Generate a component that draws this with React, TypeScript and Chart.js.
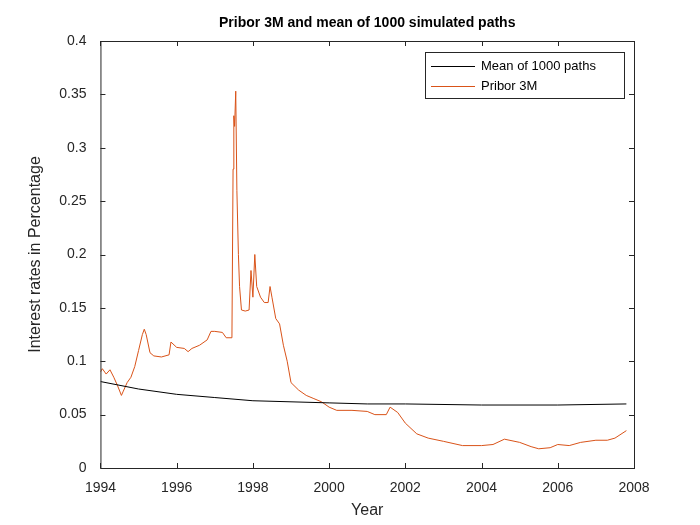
import { useEffect, useRef } from 'react';
import Chart from 'chart.js/auto';

const priborYears = [1994.0, 1994.05, 1994.15, 1994.25, 1994.35, 1994.45, 1994.55, 1994.6, 1994.7, 1994.8, 1994.9, 1995.0, 1995.1, 1995.15, 1995.2, 1995.3, 1995.4, 1995.6, 1995.8, 1995.85, 1996.0, 1996.2, 1996.3, 1996.4, 1996.6, 1996.8, 1996.9, 1997.0, 1997.2, 1997.3, 1997.45, 1997.48, 1997.5, 1997.52, 1997.55, 1997.58, 1997.62, 1997.65, 1997.7, 1997.8, 1997.9, 1997.95, 1998.0, 1998.05, 1998.1, 1998.2, 1998.3, 1998.4, 1998.45, 1998.5, 1998.6, 1998.7, 1998.8, 1998.9, 1999.0, 1999.2, 1999.4, 1999.6, 1999.8, 2000.0, 2000.2, 2000.6, 2001.0, 2001.2, 2001.5, 2001.6, 2001.8, 2002.0, 2002.3, 2002.6, 2003.0, 2003.5, 2004.0, 2004.3, 2004.6, 2005.0, 2005.3, 2005.5, 2005.8, 2006.0, 2006.3, 2006.6, 2007.0, 2007.3, 2007.5, 2007.8];
const priborValues = [0.09, 0.093, 0.088, 0.092, 0.085, 0.077, 0.068, 0.072, 0.08, 0.085, 0.095, 0.11, 0.125, 0.13, 0.125, 0.108, 0.105, 0.104, 0.106, 0.118, 0.113, 0.112, 0.109, 0.112, 0.115, 0.12, 0.128, 0.128, 0.127, 0.122, 0.122, 0.28, 0.33, 0.32, 0.353, 0.26, 0.2, 0.17, 0.148, 0.147, 0.148, 0.185, 0.16, 0.2, 0.17, 0.16, 0.155, 0.155, 0.17, 0.16, 0.14, 0.135, 0.115, 0.1, 0.08, 0.073, 0.068, 0.065, 0.062, 0.057, 0.054, 0.054, 0.053, 0.05, 0.05, 0.057, 0.052, 0.042, 0.032, 0.028, 0.025, 0.021, 0.021, 0.022, 0.027, 0.024, 0.02, 0.018, 0.019, 0.022, 0.021, 0.024, 0.026, 0.026, 0.028, 0.035];
const meanYears = [1994, 1995, 1996, 1997, 1998, 1999, 2000, 2001, 2002, 2004, 2006, 2007.8];
const meanValues = [0.081, 0.074, 0.069, 0.066, 0.063, 0.062, 0.061, 0.06, 0.06, 0.059, 0.059, 0.06];
const xTicks = [1994, 1996, 1998, 2000, 2002, 2004, 2006, 2008];
const title = 'Pribor 3M and mean of 1000 simulated paths';

const font = 'Liberation Sans, Arial, sans-serif';

const boxPlugin = {
  id: 'box',
  afterDraw(chart: any) {
    const { ctx, chartArea: a, scales } = chart;
    ctx.save();
    ctx.strokeStyle = '#262626';
    ctx.lineWidth = 1;
    ctx.strokeRect(a.left + 0.5, a.top + 0.5, a.right - a.left, a.bottom - a.top);
    // inward ticks
    ctx.beginPath();
    xTicks.forEach((t) => {
      const x = Math.round(scales.x.getPixelForValue(t)) + 0.5;
      ctx.moveTo(x, a.bottom); ctx.lineTo(x, a.bottom - 5);
      ctx.moveTo(x, a.top); ctx.lineTo(x, a.top + 5);
    });
    for (let v = 0; v <= 0.4001; v += 0.05) {
      const y = Math.round(scales.y.getPixelForValue(v)) + 0.5;
      ctx.moveTo(a.left, y); ctx.lineTo(a.left + 5, y);
      ctx.moveTo(a.right, y); ctx.lineTo(a.right - 5, y);
    }
    ctx.stroke();
    // title centred on the plot area
    ctx.fillStyle = '#000';
    ctx.font = `bold 14px ${font}`;
    ctx.textAlign = 'center';
    ctx.textBaseline = 'middle';
    ctx.fillText(title, (a.left + a.right) / 2, 23);
    // legend
    const lx = 425, ly = 52, lw = 199, lh = 46;
    ctx.textAlign = 'left';
    ctx.fillStyle = '#fff';
    ctx.fillRect(lx, ly, lw, lh);
    ctx.strokeRect(lx + 0.5, ly + 0.5, lw, lh);
    ctx.font = `13px ${font}`;
    const items = [['Mean of 1000 paths', '#000000', 66], ['Pribor 3M', '#d95319', 86]] as const;
    items.forEach(([label, color, y]) => {
      ctx.strokeStyle = color;
      ctx.beginPath(); ctx.moveTo(431, y + 0.5); ctx.lineTo(475, y + 0.5); ctx.stroke();
      ctx.fillStyle = '#000';
      ctx.fillText(label, 481, y);
    });
    ctx.restore();
  },
};

export default function App() {
  const canvasRef = useRef<HTMLCanvasElement>(null);
  const chartRef = useRef<Chart | null>(null);

  useEffect(() => {
    document.body.style.margin = '0';
    if (!canvasRef.current) return;
    if (chartRef.current) chartRef.current.destroy();
    chartRef.current = new Chart(canvasRef.current, {
      type: 'line',
      data: {
        datasets: [
          {
            label: 'Mean of 1000 paths',
            data: meanYears.map((x, i) => ({ x, y: meanValues[i] })),
            borderColor: '#000000',
            borderWidth: 1,
            pointRadius: 0,
          },
          {
            label: 'Pribor 3M',
            data: priborYears.map((x, i) => ({ x, y: priborValues[i] })),
            borderColor: '#d95319',
            borderWidth: 1,
            pointRadius: 0,
          },
        ],
      },
      options: {
        responsive: false,
        animation: false,
        layout: { padding: { top: 41, right: 66, left: 22, bottom: 1 } },
        plugins: {
          legend: { display: false },
          tooltip: { enabled: false },
          title: { display: false },
        },
        scales: {
          x: {
            type: 'linear',
            min: 1994,
            max: 2008,
            afterBuildTicks: (s: any) => { s.ticks = xTicks.map((v) => ({ value: v })); },
            grid: { display: false },
            border: { display: false },
            ticks: { color: '#262626', font: { family: font, size: 14 }, maxRotation: 0, padding: 4, callback: (v: any) => String(v) },
            title: { display: true, text: 'Year', color: '#262626', font: { family: font, size: 16 }, padding: { top: 0 } },
          },
          y: {
            min: 0,
            max: 0.4,
            grid: { display: false },
            border: { display: false },
            ticks: { stepSize: 0.05, color: '#262626', font: { family: font, size: 14 }, padding: 6, callback: (v: any) => String(Math.round(v * 100) / 100) },
            title: { display: true, text: 'Interest rates in Percentage', color: '#262626', font: { family: font, size: 16 }, padding: { bottom: 8 } },
          },
        },
      },
      plugins: [boxPlugin],
    });
    return () => {
      if (chartRef.current) chartRef.current.destroy();
    };
  }, []);

  return <canvas ref={canvasRef} width={700} height={525} />;
}
